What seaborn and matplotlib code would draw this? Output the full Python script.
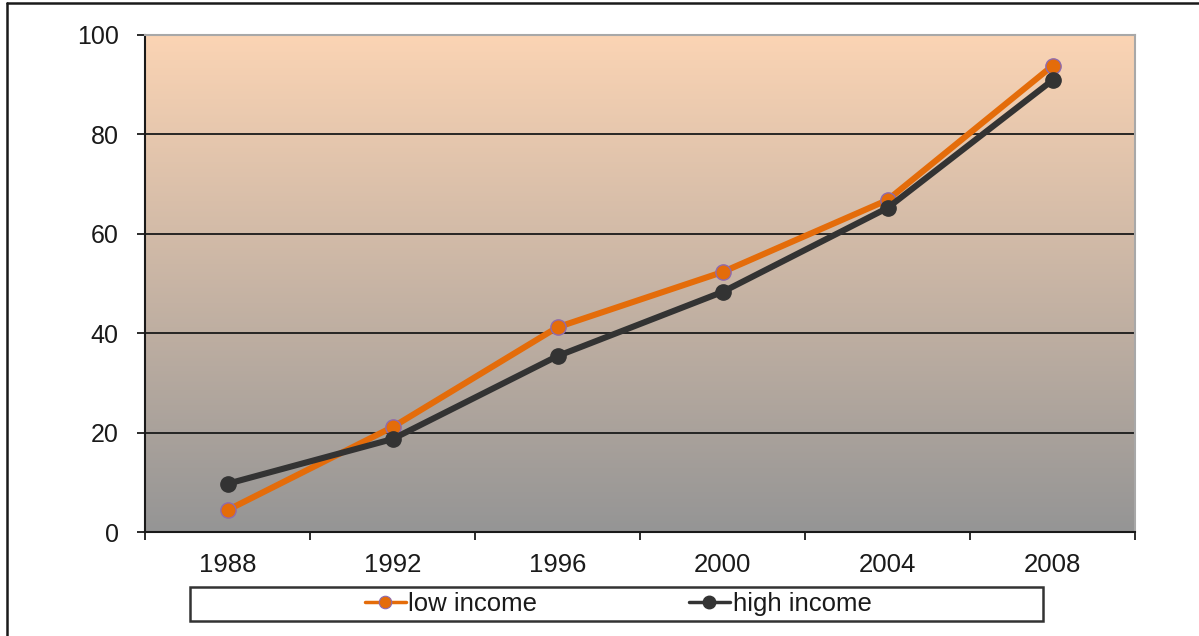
import seaborn as sns
import matplotlib.pyplot as plt
import numpy as np
import pandas as pd
from matplotlib.lines import Line2D
from matplotlib.patches import Rectangle
from matplotlib.colors import LinearSegmentedColormap

years = ['1988', '1992', '1996', '2000', '2004', '2008']
low_income = [4.4, 21.1, 41.2, 52.3, 66.8, 93.8]
high_income = [9.7, 18.7, 35.4, 48.3, 65.2, 90.9]

sns.set_style('white')
plt.rcParams['font.family'] = ['Liberation Sans', 'DejaVu Sans']

df = pd.DataFrame({
    'x': list(range(len(years))) * 2,
    'value': low_income + high_income,
    'series': ['low income'] * len(years) + ['high income'] * len(years),
})

fig = plt.figure(figsize=(11.99, 6.36), dpi=100)
ax = fig.add_axes([145 / 1199, 1 - 532 / 636, (1135 - 145) / 1199, (532 - 35) / 636])

# gradient background (peach at top, grey at bottom)
cmap = LinearSegmentedColormap.from_list('bg', ['#959595', '#FBD4B4'])
grad = np.linspace(0, 1, 256).reshape(-1, 1)
ax.imshow(grad, cmap=cmap, aspect='auto', origin='lower',
          extent=[-0.5, 5.5, 0, 100], zorder=0)

for y in [20, 40, 60, 80]:
    ax.axhline(y, color='#1a1a1a', lw=1.3, zorder=1)

sns.lineplot(data=df[df.series == 'low income'], x='x', y='value',
             color='#E46C0A', lw=4.4, marker='o', markersize=11,
             markeredgecolor='#8E6AAE', markeredgewidth=1.0,
             ax=ax, zorder=3, legend=False)
sns.lineplot(data=df[df.series == 'high income'], x='x', y='value',
             color='#333333', lw=4.4, marker='o', markersize=11,
             markeredgecolor='#333333', markeredgewidth=1.0,
             ax=ax, zorder=4, legend=False)

ax.set_xlim(-0.5, 5.5)
ax.set_ylim(0, 100)
ax.set_xlabel('')
ax.set_ylabel('')
ax.set_yticks([0, 20, 40, 60, 80, 100])
ax.set_xticks(np.arange(-0.5, 6, 1))
ax.set_xticklabels([])
ax.set_xticks(range(len(years)), minor=True)
ax.set_xticklabels(years, minor=True)
ax.tick_params(axis='x', which='major', direction='out', length=6, width=1.3,
               color='#1a1a1a', bottom=True)
ax.tick_params(axis='x', which='minor', length=0, pad=15, labelsize=18.5,
               labelcolor='#1a1a1a')
ax.tick_params(axis='y', direction='out', length=6, width=1.3, color='#1a1a1a',
               left=True, pad=13, labelsize=18, labelcolor='#1a1a1a')

for side in ['left', 'bottom']:
    ax.spines[side].set_color('#1a1a1a')
    ax.spines[side].set_linewidth(1.5)
for side in ['top', 'right']:
    ax.spines[side].set_visible(True)
    ax.spines[side].set_color('#A8A8A8')
    ax.spines[side].set_linewidth(1.5)

# legend box below the plot
fig.patches.append(Rectangle((190 / 1199, 1 - 621 / 636), (1043 - 190) / 1199, 34 / 636,
                             transform=fig.transFigure, facecolor='white',
                             edgecolor='#333333', lw=1.8))
handles = [
    Line2D([], [], color='#E46C0A', lw=2.5, marker='o', markersize=9,
           markeredgecolor='#8E6AAE', markeredgewidth=0.8),
    Line2D([], [], color='#333333', lw=2.5, marker='o', markersize=9,
           markeredgecolor='#333333'),
]
fig.legend(handles, ['low income', 'high income'], loc='center',
           bbox_to_anchor=(618 / 1199, 1 - 604 / 636), ncol=2, frameon=False,
           fontsize=18.5, handlelength=1.6, handletextpad=0.1, columnspacing=5.9,
           labelcolor='#1a1a1a')

# outer chart border (left and top edges visible)
fig.add_artist(Line2D([7 / 1199, 7 / 1199], [0, 1 - 3 / 636], transform=fig.transFigure,
                      color='#1a1a1a', lw=1.8))
fig.add_artist(Line2D([7 / 1199, 1], [1 - 3 / 636, 1 - 3 / 636], transform=fig.transFigure,
                      color='#1a1a1a', lw=1.8))

fig.savefig('out.png', dpi=100)
